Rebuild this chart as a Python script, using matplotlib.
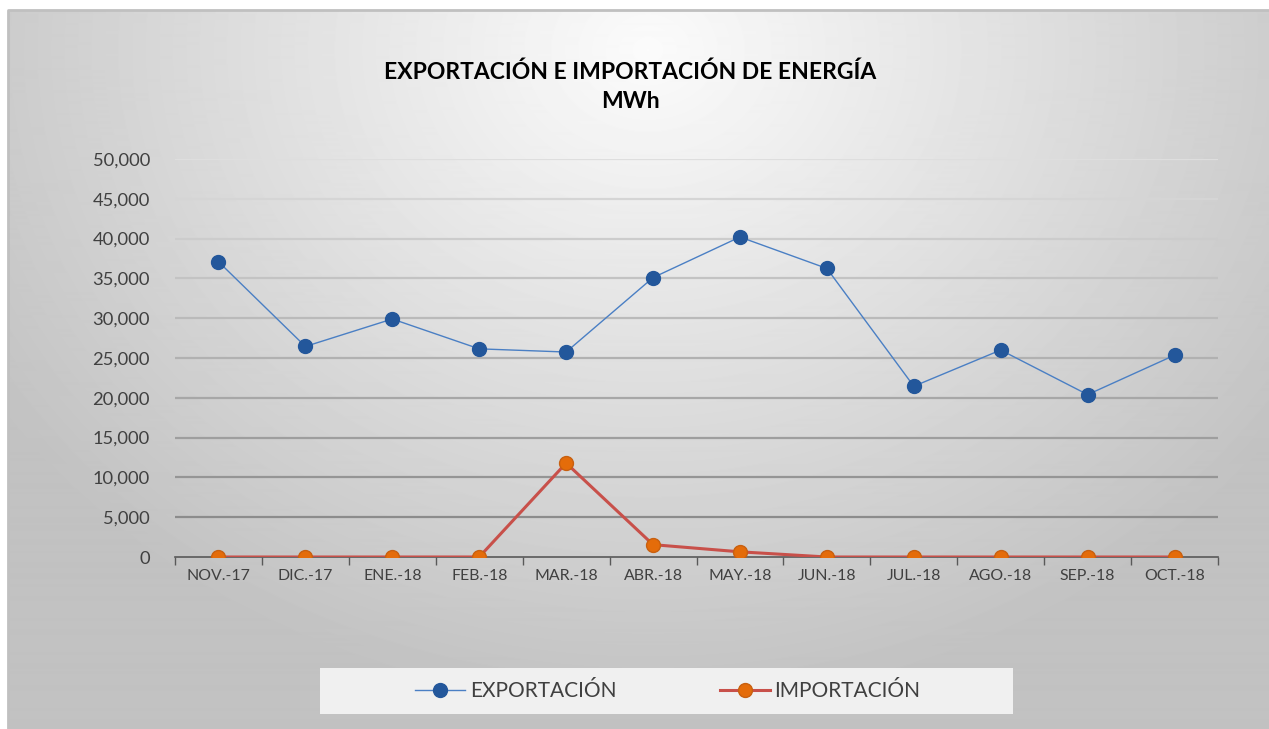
import numpy as np
import matplotlib.pyplot as plt
from matplotlib.patches import Rectangle
from matplotlib.ticker import FuncFormatter

# Data (MWh)
meses = ['NOV.-17', 'DIC.-17', 'ENE.-18', 'FEB.-18', 'MAR.-18', 'ABR.-18',
         'MAY.-18', 'JUN.-18', 'JUL.-18', 'AGO.-18', 'SEP.-18', 'OCT.-18']
exportacion = [37100, 26450, 29900, 26150, 25750, 35100,
               40200, 36250, 21450, 26000, 20400, 25350]
importacion = [0, 0, 0, 0, 11800, 1550, 650, 0, 0, 0, 0, 0]

plt.rcParams['font.family'] = ['Lato', 'DejaVu Sans']

W, H = 1269, 729
fig = plt.figure(figsize=(W / 100, H / 100), dpi=100)
fig.patch.set_facecolor('white')

# ------ Background with radial gradient ------
bg = fig.add_axes([8 / W, 0, 1 - 8 / W, 1 - 10 / H])
bg.set_axis_off()
yy, xx = np.mgrid[0:720, 0:1261]
d = np.sqrt(((xx - 640) / 900.0) ** 2 + ((yy - 40) / 760.0) ** 2)
grad = np.clip(0.985 - 0.26 * d, 0.76, 1.0)
bg.imshow(grad, cmap='gray', vmin=0, vmax=1, aspect='auto',
          extent=[0, 1, 0, 1], interpolation='bilinear')
# only the top and left edges of the frame are visible
bg.plot([0, 0, 1], [0, 1, 1], transform=bg.transAxes, color='#c0c0c0',
        linewidth=2, clip_on=False)

# ------ Plot area ------
left, right = 175, 1218
y0, ytop = 557, 159
ax = fig.add_axes([left / W, (H - y0) / H, (right - left) / W, (y0 - ytop) / H])
ax.patch.set_alpha(0)

x = np.arange(len(meses))
ax.set_xlim(-0.5, len(meses) - 0.5)
ax.set_ylim(0, 50000)

# gridlines: lighter towards the top
niveles = np.arange(5000, 50001, 5000)
for i, v in enumerate(niveles):
    g = 0.55 + 0.32 * i / (len(niveles) - 1)
    ax.axhline(v, color=(g, g, g), linewidth=1.6, zorder=1)

ax.plot(x, exportacion, color='#4a7fc4', linewidth=1.0, marker='o',
        markersize=10, markerfacecolor='#23579b', markeredgecolor='#23579b',
        label='EXPORTACIÓN', zorder=3)
ax.plot(x, importacion, color='#c8504a', linewidth=2.2, marker='o',
        markersize=10, markerfacecolor='#e46c0a', markeredgecolor='#c86010',
        label='IMPORTACIÓN', zorder=3)

for s in ['top', 'right', 'left']:
    ax.spines[s].set_visible(False)
ax.spines['bottom'].set_color('#595959')
ax.spines['bottom'].set_linewidth(1.2)

ax.set_yticks(np.arange(0, 50001, 5000))
ax.yaxis.set_major_formatter(FuncFormatter(lambda v, p: f'{int(v):,}'))
ax.tick_params(axis='y', length=0, pad=18, labelsize=13.2, labelcolor='#404040')
ax.set_xticks(x)
ax.set_xticklabels(meses)
ax.set_xticks(np.arange(-0.5, len(meses), 1), minor=True)
ax.tick_params(axis='x', which='major', length=0, pad=9, labelsize=11.4,
               labelcolor='#404040')
ax.tick_params(axis='x', which='minor', length=6, width=1, color='#595959')

# ------ Title ------
fig.text(630 / W, 1 - 72 / H, 'EXPORTACIÓN E IMPORTACIÓN DE ENERGÍA',
         ha='center', va='center', fontsize=16.5, fontweight='bold', color='black')
fig.text(630 / W, 1 - 101 / H, 'MWh', ha='center', va='center',
         fontsize=16.5, fontweight='bold', color='black')

# ------ Legend ------
fig.patches.append(Rectangle((320 / W, 1 - 714 / H), (1013 - 320) / W, 46 / H,
                             transform=fig.transFigure, facecolor='#f0f0f0',
                             edgecolor='none', zorder=1))
fig.legend(loc='center', bbox_to_anchor=(668 / W, 1 - 691 / H), ncol=2,
           frameon=False, fontsize=15, handlelength=2.4, columnspacing=5,
           handletextpad=0.2, labelcolor='#404040')

fig.savefig('out.png', dpi=100, facecolor=fig.get_facecolor())
